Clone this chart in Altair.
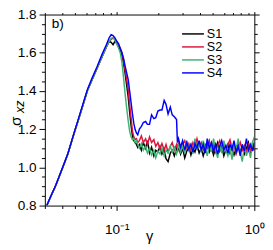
import altair as alt
import pandas as pd

# ---------------- data ----------------
series_names = ["S1", "S2", "S3", "S4"]
series_colors = ["#000000", "#dc143c", "#3cb371", "#0000ff"]

gamma_rise = [0.031, 0.033, 0.036, 0.040, 0.044, 0.049, 0.052, 0.056, 0.061,
              0.066, 0.072, 0.078, 0.084, 0.088]
gamma_peak = [0.091, 0.094, 0.097, 0.100, 0.103, 0.106, 0.109, 0.112, 0.115,
              0.118, 0.121, 0.124, 0.127, 0.130, 0.133, 0.136, 0.139, 0.142]
gamma_tail = [0.146, 0.151, 0.156, 0.162, 0.167, 0.173, 0.179, 0.186, 0.192, 0.199,
              0.206, 0.213, 0.221, 0.228, 0.236, 0.245, 0.253, 0.262, 0.272, 0.276,
              0.281, 0.291, 0.301, 0.312, 0.323, 0.334, 0.346, 0.358, 0.370, 0.383,
              0.397, 0.411, 0.425, 0.440, 0.455, 0.471, 0.488, 0.505, 0.522, 0.541,
              0.560, 0.579, 0.600, 0.621, 0.642, 0.665, 0.688, 0.712, 0.737, 0.763,
              0.790, 0.817, 0.846, 0.876, 0.906, 0.938, 0.970, 1.000]

rise_common = [0.800, 0.845, 0.905, 0.990, 1.068, 1.180, 1.238, 1.312, 1.400,
               1.458, 1.520, 1.578, 1.630, 1.660]
rise_S4 = [0.800, 0.846, 0.906, 0.992, 1.070, 1.182, 1.242, 1.318, 1.405,
           1.466, 1.528, 1.590, 1.642, 1.678]

peak_S1 = [1.655, 1.642, 1.660, 1.650, 1.635, 1.615, 1.590, 1.545, 1.490,
           1.430, 1.370, 1.290, 1.220, 1.165, 1.140, 1.130, 1.120, 1.105]
peak_S2 = [1.670, 1.678, 1.668, 1.655, 1.640, 1.625, 1.600, 1.560, 1.510,
           1.460, 1.410, 1.330, 1.260, 1.190, 1.160, 1.145, 1.150, 1.130]
peak_S3 = [1.675, 1.680, 1.665, 1.645, 1.625, 1.600, 1.550, 1.470, 1.385,
           1.310, 1.245, 1.190, 1.160, 1.145, 1.150, 1.130, 1.140, 1.120]
peak_S4 = [1.695, 1.690, 1.678, 1.660, 1.648, 1.622, 1.600, 1.570, 1.530,
           1.495, 1.460, 1.400, 1.340, 1.280, 1.230, 1.198, 1.180, 1.170]

tail_S1 = [1.12, 1.09, 1.13, 1.10, 1.14, 1.075, 1.105, 1.06, 1.09, 1.08,
           1.11, 1.07, 1.095, 1.045, 1.03, 1.075, 1.09, 1.06, 1.10, 1.08,
           1.11, 1.07, 1.10, 1.05, 1.085, 1.11, 1.065, 1.10, 1.08, 1.12,
           1.075, 1.10, 1.06, 1.095, 1.125, 1.08, 1.105, 1.065, 1.10, 1.13,
           1.085, 1.11, 1.06, 1.095, 1.12, 1.075, 1.105, 1.065, 1.10, 1.125,
           1.08, 1.11, 1.07, 1.10, 1.13, 1.08, 1.11, 1.09]
tail_S2 = [1.14, 1.165, 1.13, 1.15, 1.12, 1.16, 1.13, 1.145, 1.11, 1.13,
           1.095, 1.125, 1.09, 1.12, 1.08, 1.11, 1.13, 1.09, 1.12, 1.10,
           1.13, 1.085, 1.12, 1.14, 1.10, 1.125, 1.09, 1.13, 1.105, 1.15,
           1.11, 1.13, 1.09, 1.12, 1.10, 1.14, 1.095, 1.12, 1.08, 1.115,
           1.14, 1.10, 1.125, 1.085, 1.12, 1.145, 1.10, 1.12, 1.07, 1.10,
           1.13, 1.09, 1.115, 1.075, 1.12, 1.09, 1.13, 1.10]
tail_S3 = [1.10, 1.125, 1.09, 1.11, 1.075, 1.10, 1.065, 1.09, 1.05, 1.085,
           1.07, 1.10, 1.06, 1.09, 1.075, 1.11, 1.08, 1.105, 1.07, 1.09,
           1.12, 1.08, 1.11, 1.075, 1.14, 1.09, 1.12, 1.07, 1.15, 1.09,
           1.125, 1.08, 1.14, 1.10, 1.06, 1.12, 1.08, 1.15, 1.095, 1.05,
           1.12, 1.075, 1.14, 1.09, 1.06, 1.11, 1.04, 1.12, 1.09, 1.15,
           1.08, 1.03, 1.11, 1.06, 1.10, 1.05, 1.13, 1.16]
tail_S4 = [1.20, 1.215, 1.235, 1.24, 1.225, 1.225, 1.275, 1.255, 1.26, 1.295,
           1.30, 1.30, 1.35, 1.33, 1.28, 1.315, 1.275, 1.265, 1.25, 1.13,
           1.15, 1.105, 1.14, 1.09, 1.13, 1.095, 1.12, 1.08, 1.125, 1.10,
           1.14, 1.09, 1.12, 1.075, 1.15, 1.10, 1.13, 1.085, 1.12, 1.07,
           1.11, 1.14, 1.09, 1.115, 1.075, 1.12, 1.095, 1.14, 1.08, 1.11,
           1.06, 1.12, 1.085, 1.15, 1.09, 1.12, 1.085, 1.13]

x_tick_values = [0.03, 0.04, 0.05, 0.06, 0.07, 0.08, 0.09, 0.1,
                 0.2, 0.3, 0.4, 0.5, 0.6, 0.7, 0.8, 0.9, 1.0]
y_tick_values = [0.8, 0.85, 0.9, 0.95, 1.0, 1.05, 1.1, 1.15, 1.2, 1.25, 1.3,
                 1.35, 1.4, 1.45, 1.5, 1.55, 1.6, 1.65, 1.7, 1.75, 1.8]

# ---------------- build table ----------------
gamma_all = gamma_rise + gamma_peak + gamma_tail
series_values = {
    "S1": rise_common + peak_S1 + tail_S1,
    "S2": rise_common + peak_S2 + tail_S2,
    "S3": rise_common + peak_S3 + tail_S3,
    "S4": rise_S4 + peak_S4 + tail_S4,
}
rows = []
for name in series_names:
    for g, v in zip(gamma_all, series_values[name]):
        rows.append({"gamma": g, "value": v, "series": name})
df = pd.DataFrame(rows)

FONT = "Liberation Sans"
x_major = "datum.value == 0.1 || datum.value == 1"
y_major = "abs(datum.value*5 - round(datum.value*5)) < 0.01"

x_scale = alt.Scale(type="log", domain=[0.03, 1.0], nice=False)
y_scale = alt.Scale(domain=[0.8, 1.8], nice=False, zero=False)
color_scale = alt.Scale(domain=series_names, range=series_colors)

axis_common = dict(grid=False, domain=False, tickColor="black", tickWidth=1,
                   labelColor="black", labelFont=FONT, labelFontSize=14,
                   title=None, labelFlush=False, labelOverlap=False)

x_bottom = alt.Axis(orient="bottom", values=x_tick_values,
                    labelExpr="datum.value == 0.1 ? '10⁻¹' : (datum.value == 1 ? '10⁰' : '')",
                    tickSize={"condition": {"test": x_major, "value": 5}, "value": 3},
                    labelPadding=13, **axis_common)
y_left = alt.Axis(orient="left", values=y_tick_values,
                  labelExpr=f"{y_major} ? format(datum.value, '.1f') : ''",
                  tickSize={"condition": {"test": y_major, "value": 6}, "value": 3.5},
                  labelPadding=3, **axis_common)
x_top = alt.Axis(orient="top", values=x_tick_values, labels=False,
                 tickSize={"condition": {"test": x_major, "value": 3}, "value": 2},
                 **axis_common)
y_right = alt.Axis(orient="right", values=y_tick_values, labels=False,
                   tickSize={"condition": {"test": y_major, "value": 5}, "value": 3},
                   **axis_common)

lines = alt.Chart(df).mark_line(strokeWidth=1.5, clip=True).encode(
    x=alt.X("gamma:Q", scale=x_scale, axis=x_bottom),
    y=alt.Y("value:Q", scale=y_scale, axis=y_left),
    color=alt.Color("series:N", scale=color_scale, legend=None),
)

frame = alt.Chart(df).mark_line(opacity=0).encode(
    x=alt.X("gamma:Q", scale=x_scale, axis=x_top),
    y=alt.Y("value:Q", scale=y_scale, axis=y_right),
    detail="series:N",
)

leg_df = pd.DataFrame({"series": series_names})
leg_y = alt.Y("series:N", scale=alt.Scale(type="point", domain=series_names,
                                           range=[20, 60.2], padding=0), axis=None)
leg_rules = alt.Chart(leg_df).mark_rule(strokeWidth=1.5).encode(
    x=alt.value(141.5), x2=alt.value(164), y=leg_y,
    color=alt.Color("series:N", scale=color_scale, legend=None),
)
leg_text = alt.Chart(leg_df).mark_text(align="left", baseline="middle",
                                       font=FONT, fontSize=13, color="black").encode(
    x=alt.value(167), y=leg_y, text="series:N",
)

one = pd.DataFrame({"k": [0]})
panel_label = alt.Chart(one).mark_text(text="b)", align="left", baseline="alphabetic",
                                       font=FONT, fontSize=14, color="black").encode(
    x=alt.value(7), y=alt.value(14))
x_title = alt.Chart(one).mark_text(text="γ", align="center", baseline="alphabetic",
                                   font=FONT, fontSize=15, color="black").encode(
    x=alt.value(108), y=alt.value(234))
y_title_main = alt.Chart(one).mark_text(text="σ", align="center", baseline="middle",
                                        angle=270, font=FONT, fontSize=16, color="black").encode(
    x=alt.value(-30), y=alt.value(110))
y_title_sub = alt.Chart(one).mark_text(text="xz", align="center", baseline="middle",
                                       angle=270, font=FONT, fontSize=13, fontStyle="italic",
                                       color="black").encode(
    x=alt.value(-25), y=alt.value(95))

chart = alt.layer(
    lines, frame, leg_rules, leg_text, panel_label, x_title, y_title_main, y_title_sub
).resolve_scale(
    y="independent"
).resolve_axis(
    x="independent", y="independent"
).properties(
    width=216, height=197,
    autosize=alt.AutoSizeParams(type="none"),
    padding={"left": 38, "top": 3, "right": 11, "bottom": 40},
).configure_view(
    stroke="black", strokeWidth=1
)

chart.save("out.html", embed_options={"renderer": "svg", "actions": False})
